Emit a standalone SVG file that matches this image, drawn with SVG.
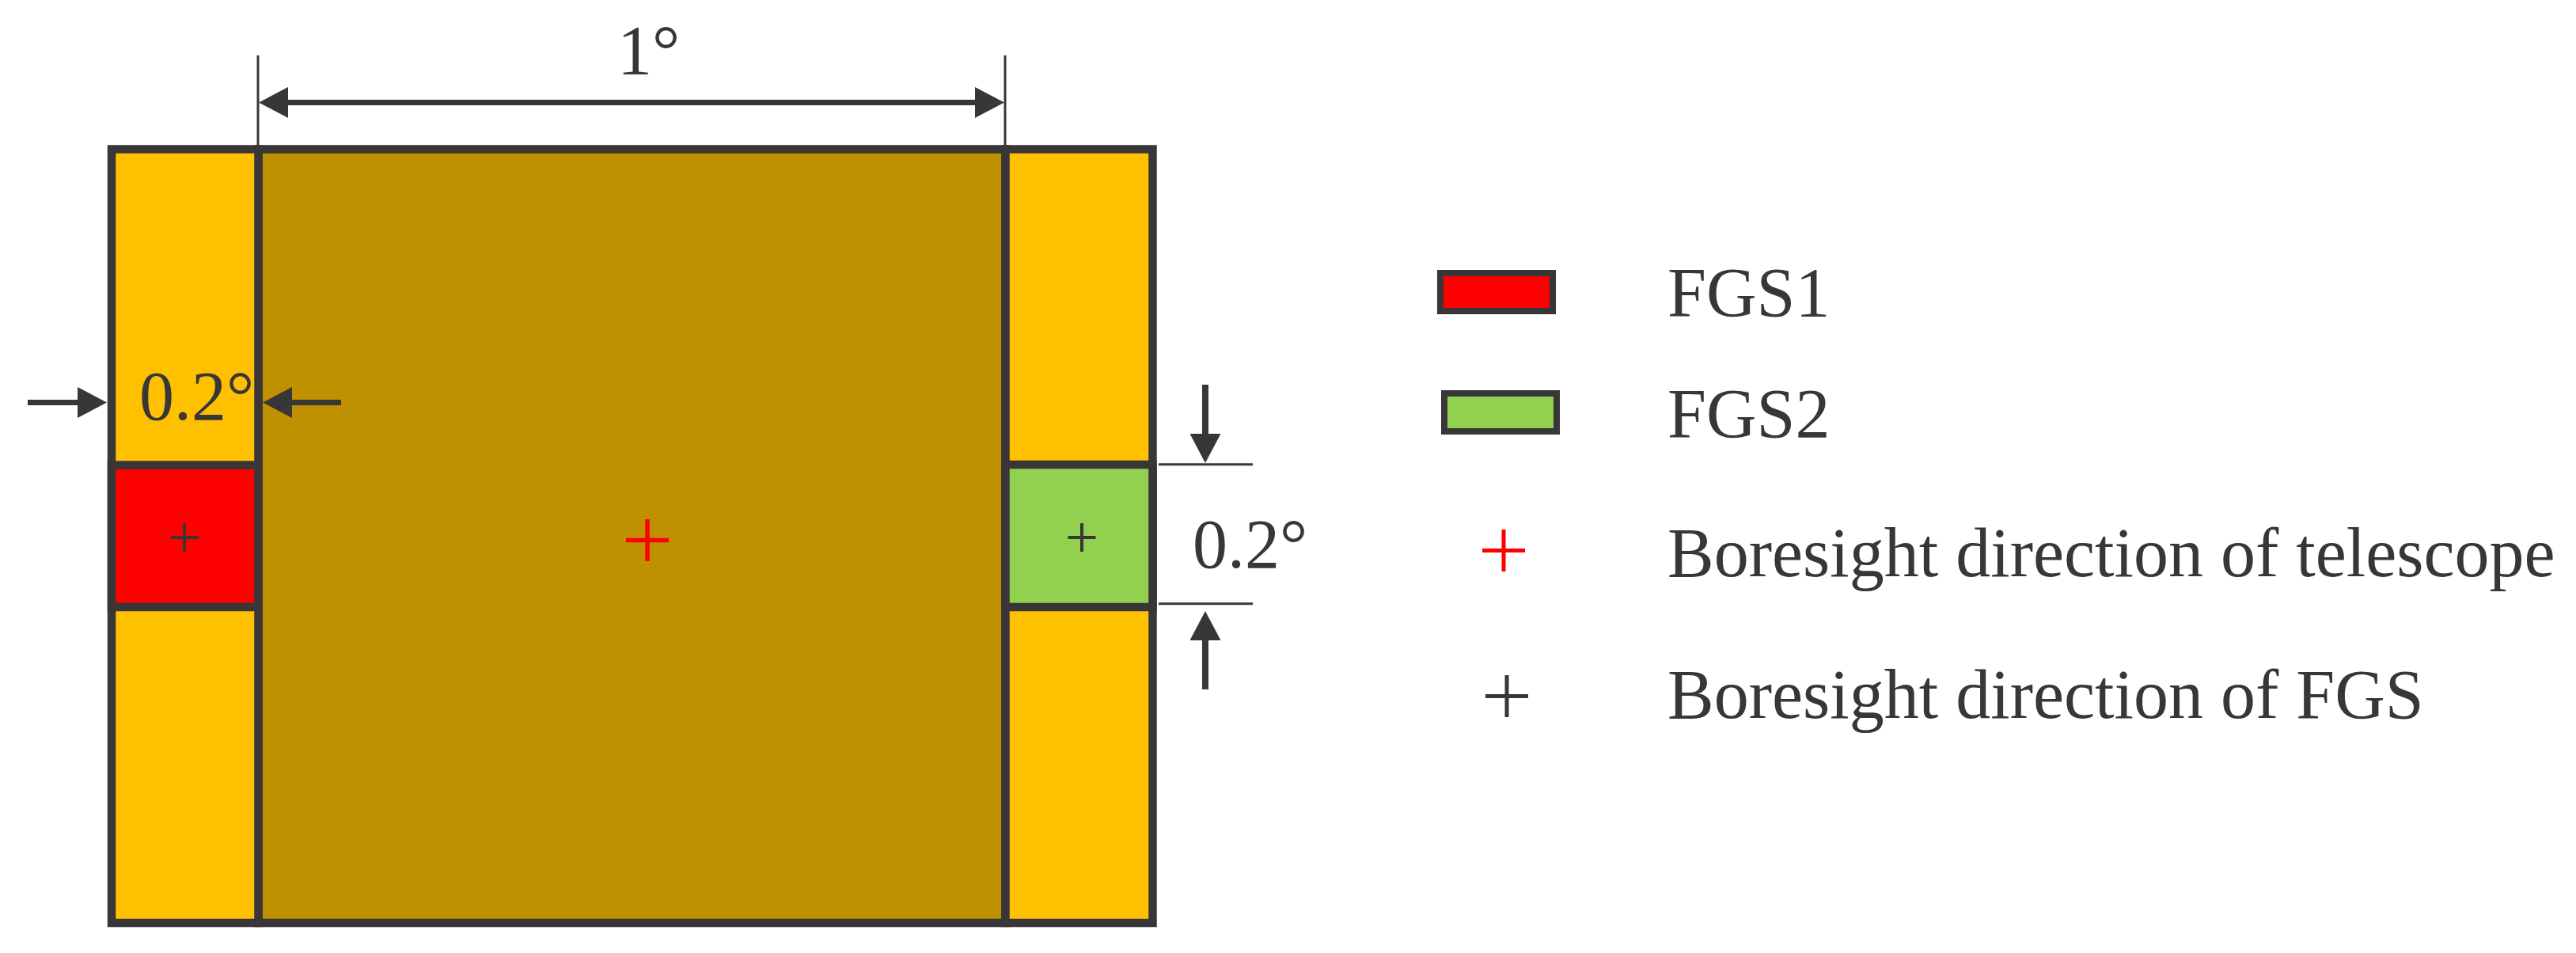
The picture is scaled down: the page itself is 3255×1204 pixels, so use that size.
<svg xmlns="http://www.w3.org/2000/svg" width="3255" height="1204" viewBox="0 0 3255 1204">
  <style>
    .txt { font-family: "Liberation Serif", "Times New Roman", serif; font-size: 88px; fill: #383637; }
    .frame { stroke: #383637; stroke-width: 10.5; }
    .ext { stroke: #383637; stroke-width: 3; fill: none; }
    .dim { stroke: #383637; stroke-width: 7; fill: none; }
    .dimv { stroke: #383637; stroke-width: 8; fill: none; }
    .bplus { stroke: #383637; stroke-width: 4; fill: none; }
    .rplus { stroke: #FF0000; stroke-width: 5.5; fill: none; }
    .lplus { stroke-width: 5; fill: none; }
  </style>
  <defs>
    <marker id="ah" markerUnits="userSpaceOnUse" viewBox="0 0 37 39" refX="0" refY="19.5" markerWidth="37" markerHeight="39" orient="auto-start-reverse">
      <path d="M0,0 L37,19.5 L0,39 Z" fill="#383637"/>
    </marker>
  </defs>
  <rect width="3255" height="1204" fill="#FFFFFF"/>

  <g id="center-field">
    <rect x="326.5" y="188.5" width="944" height="977.5" fill="#BF9000" class="frame"/>
    <path d="M791,682.5 H845 M818,656 V709" class="rplus"/>
  </g>
  <g id="left-column">
    <rect x="141" y="188.5" width="185.5" height="977.5" fill="#FFC000" class="frame"/>
  </g>
  <g id="fgs1">
    <rect x="141" y="587.5" width="185.5" height="179.5" fill="#FF0000" class="frame"/>
    <path d="M215.5,679 H250.5 M233,661 V697" class="bplus"/>
  </g>
  <g id="right-column">
    <rect x="1270.5" y="188.5" width="186" height="977.5" fill="#FFC000" class="frame"/>
  </g>
  <g id="fgs2">
    <rect x="1270.5" y="587" width="186" height="180" fill="#92D050" class="frame"/>
    <path d="M1349.5,679 H1384.5 M1367,661 V697" class="bplus"/>
  </g>

  <g id="connectors">
    <line x1="326" y1="70" x2="326" y2="186" class="ext"/>
    <line x1="1270" y1="70" x2="1270" y2="186" class="ext"/>
    <line x1="364" y1="129.5" x2="1232" y2="129.5" class="dim" marker-start="url(#ah)" marker-end="url(#ah)"/>
    <line x1="35" y1="508.5" x2="98" y2="508.5" class="dim" marker-end="url(#ah)"/>
    <line x1="431" y1="508.5" x2="369" y2="508.5" class="dim" marker-end="url(#ah)"/>
    <line x1="1464" y1="586.7" x2="1583" y2="586.7" class="ext"/>
    <line x1="1464" y1="762.7" x2="1583" y2="762.7" class="ext"/>
    <line x1="1523" y1="486" x2="1523" y2="548" class="dimv" marker-end="url(#ah)"/>
    <line x1="1523" y1="871" x2="1523" y2="809" class="dimv" marker-end="url(#ah)"/>
  </g>

  <g id="labels">
    <text x="780" y="93" class="txt">1°</text>
    <text x="176" y="530" class="txt">0.2°</text>
    <text x="1507" y="717" class="txt">0.2°</text>
  </g>

  <g id="legend-fgs1">
    <rect x="1820" y="345" width="142" height="48" fill="#FF0000" stroke="#383637" stroke-width="8"/>
    <text x="2107" y="399" class="txt">FGS1</text>
  </g>
  <g id="legend-fgs2">
    <rect x="1825" y="497" width="142" height="48" fill="#92D050" stroke="#383637" stroke-width="8"/>
    <text x="2107" y="552" class="txt">FGS2</text>
  </g>
  <g id="legend-telescope">
    <path d="M1873,695.5 H1927 M1900,669 V722" class="lplus" stroke="#FF0000"/>
    <text x="2107" y="728" class="txt">Boresight direction of telescope</text>
  </g>
  <g id="legend-fgs">
    <path d="M1877,879.5 H1931 M1904,853 V906" class="lplus" stroke="#383637"/>
    <text x="2107" y="907" class="txt">Boresight direction of FGS</text>
  </g>
</svg>
